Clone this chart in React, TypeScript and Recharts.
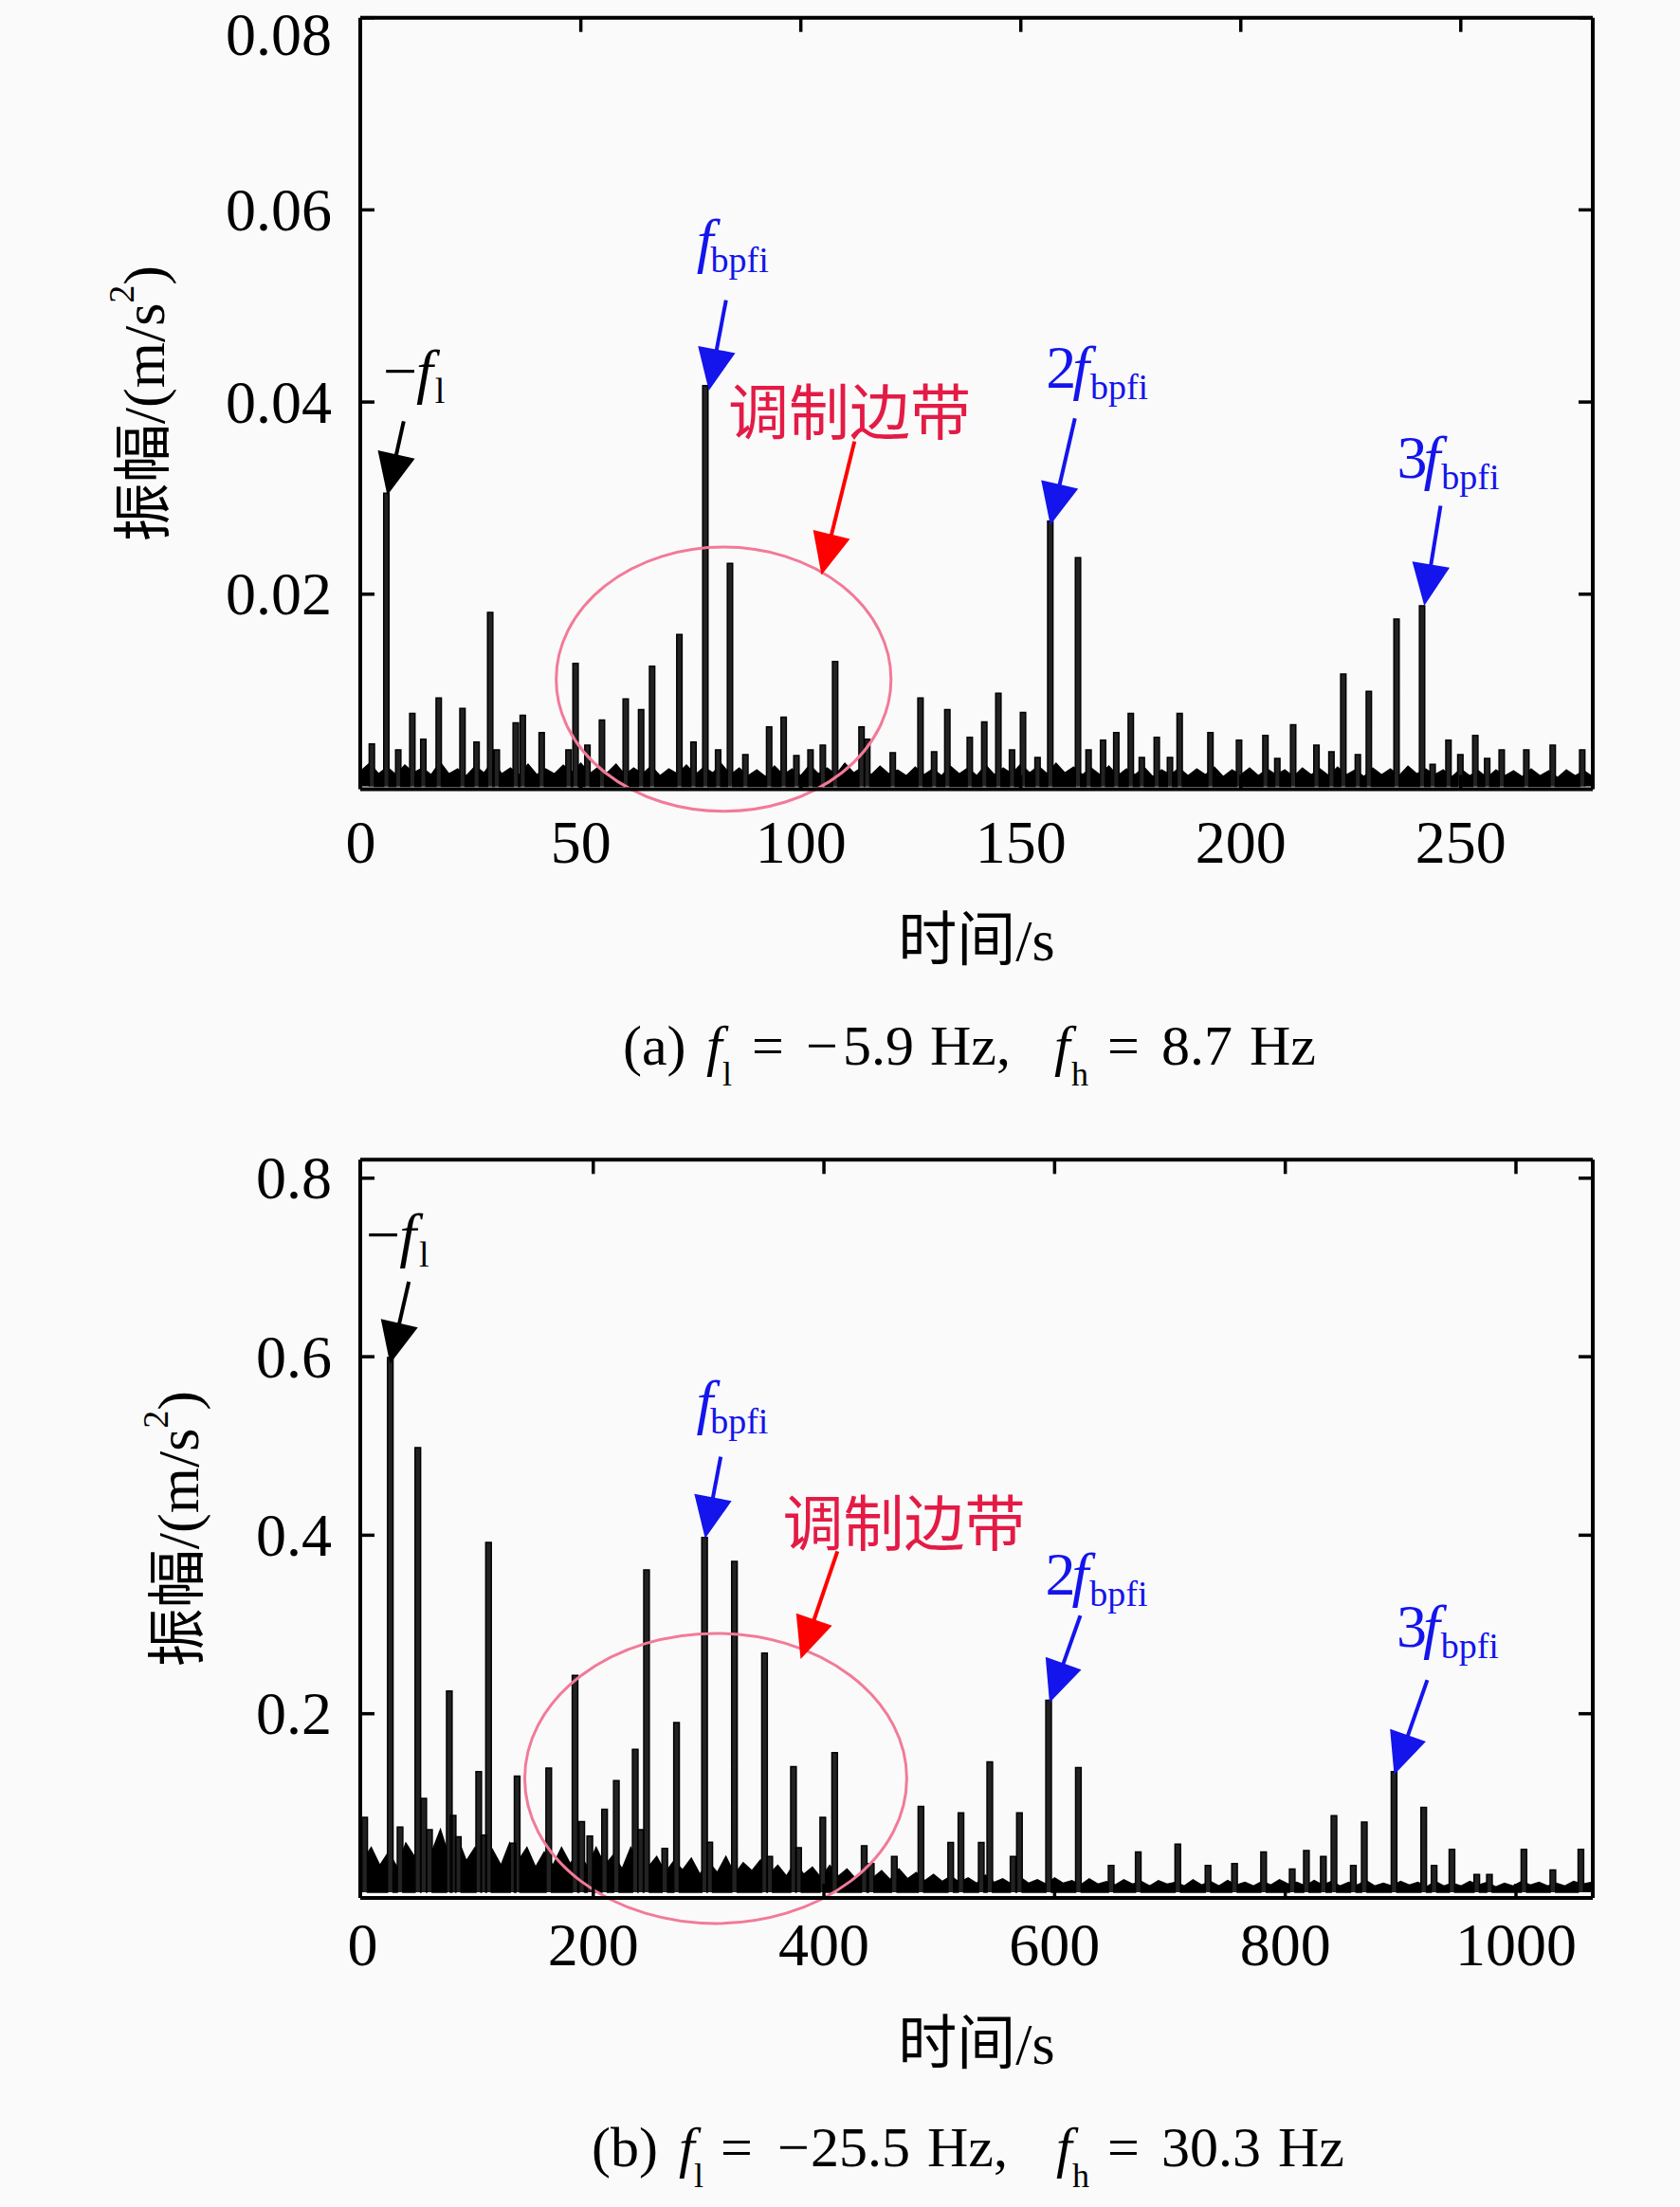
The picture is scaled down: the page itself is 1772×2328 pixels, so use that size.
import React from 'react';
import { ComposedChart, Area, XAxis, YAxis, ReferenceLine, ReferenceDot, ReferenceArea } from 'recharts';

const SERIF = "'Liberation Serif','Times New Roman','Noto Sans CJK SC',serif";
const CJK = "'Noto Sans CJK SC','Liberation Serif',sans-serif";
const BLUE = '#1414ec';
const RED = '#ff0000';
const CRIMSON = '#e31b45';
const PINK = '#f27a98';

// ---------------- panel (a) data ----------------
const peaksA: [number, number][] = [
  [2.5, 0.0044], [5.8, 0.0305], [8.5, 0.0038], [11.7, 0.0076], [14.2, 0.0049], [17.7, 0.0092],
  [23.1, 0.0081], [26.3, 0.0046], [29.4, 0.0181], [30.9, 0.0038], [35.2, 0.0066], [36.8, 0.0074],
  [41.1, 0.0056], [47.2, 0.0038], [48.8, 0.0128], [51.5, 0.0043], [54.8, 0.0069], [60.2, 0.0091],
  [63.7, 0.008], [66.2, 0.0125], [72.4, 0.0158], [75.6, 0.0046], [78.3, 0.0417], [81.2, 0.0038],
  [83.9, 0.0232], [87.4, 0.0033], [92.8, 0.0062], [96.1, 0.0072], [99.0, 0.0032], [102.2, 0.0038],
  [105.0, 0.0043], [107.8, 0.013], [113.8, 0.0062], [115.1, 0.0049], [120.9, 0.0035], [127.2, 0.0092],
  [130.3, 0.0036], [133.3, 0.008], [138.4, 0.0051], [141.7, 0.0067], [144.9, 0.0097], [148.0, 0.0038],
  [150.5, 0.0077], [153.8, 0.003], [156.7, 0.0276], [163.0, 0.0238], [165.4, 0.0038], [168.7, 0.0048],
  [171.7, 0.0056], [175.0, 0.0076], [177.5, 0.003], [180.9, 0.0051], [183.9, 0.003], [186.1, 0.0076],
  [193.1, 0.0056], [199.6, 0.0048], [205.6, 0.0053], [208.3, 0.0029], [211.9, 0.0064], [217.2, 0.0043],
  [220.6, 0.0036], [223.3, 0.0117], [226.6, 0.0033], [229.1, 0.0099], [235.4, 0.0174], [241.2, 0.0188],
  [243.6, 0.0023], [247.2, 0.0048], [249.9, 0.0033], [253.3, 0.0053], [256.0, 0.0029], [259.3, 0.0038],
  [264.9, 0.0038], [270.9, 0.0043], [277.6, 0.0038],
];
// noise floor, one value per 2 Hz bin starting at 0 Hz
const floorStepA = 2;
const floorValuesA = [
  0.0016, 0.0024, 0.0013, 0.002, 0.0012, 0.0022, 0.0014, 0.0019, 0.0012, 0.0025,
  0.0013, 0.0018, 0.0011, 0.0021, 0.0014, 0.0026, 0.0013, 0.0019, 0.0012, 0.0023,
  0.0012, 0.0018, 0.0013, 0.0022, 0.0015, 0.0024, 0.0013, 0.002, 0.0014, 0.0023,
  0.0012, 0.0019, 0.0013, 0.0021, 0.0011, 0.0018, 0.0013, 0.0022, 0.0012, 0.002,
  0.0014, 0.0023, 0.0012, 0.0019, 0.0011, 0.0017, 0.001, 0.0021, 0.0012, 0.0018,
  0.0011, 0.0022, 0.0013, 0.0019, 0.0012, 0.0024, 0.0014, 0.002, 0.0012, 0.0021,
  0.0013, 0.0017, 0.0011, 0.002, 0.0012, 0.0018, 0.0011, 0.0021, 0.0013, 0.0019,
  0.0011, 0.0022, 0.0012, 0.0019, 0.0013, 0.0023, 0.0014, 0.0021, 0.0013, 0.0024,
  0.0014, 0.002, 0.0012, 0.0019, 0.0012, 0.0021, 0.0011, 0.0018, 0.0012, 0.002,
  0.001, 0.0017, 0.0012, 0.0019, 0.0011, 0.0018, 0.0012, 0.002, 0.001, 0.0017,
  0.0012, 0.0019, 0.0011, 0.0018, 0.0012, 0.0017, 0.001, 0.0019, 0.0012, 0.0018,
  0.0011, 0.002, 0.0012, 0.0017, 0.001, 0.0019, 0.0012, 0.0018, 0.0011, 0.0021,
  0.0013, 0.0018, 0.0012, 0.0017, 0.001, 0.0018, 0.0011, 0.0016, 0.0009, 0.0017,
  0.0011, 0.0016, 0.001, 0.0018, 0.0011, 0.0016, 0.0009, 0.0017, 0.0011, 0.0016,
  0.001,
];
const xTicksA = [0, 50, 100, 150, 200, 250];
const topTicksA = [50, 100, 150, 200, 250];
const yTicksA = [0.02, 0.04, 0.06, 0.08];

// ---------------- panel (b) data ----------------
const peaksB: [number, number][] = [
  [1.8, 0.084], [24.0, 0.599], [32.5, 0.073], [47.9, 0.498], [53, 0.105], [58, 0.07], [75.2, 0.2255],
  [78.5, 0.086], [83, 0.062], [100.7, 0.135], [105, 0.064], [109.2, 0.392], [130.5, 0.055], [134, 0.13],
  [161.4, 0.139], [184.2, 0.243], [190, 0.079], [197, 0.063], [209.8, 0.093], [220, 0.125], [236.4, 0.16],
  [241, 0.07], [246.2, 0.361], [262, 0.049], [272.2, 0.19], [296.5, 0.3975], [301, 0.056], [322.4, 0.3706],
  [348.5, 0.268], [353, 0.04], [373.6, 0.1406], [378, 0.05], [399, 0.084], [409.3, 0.1565], [434.9, 0.052],
  [441, 0.032], [461, 0.04], [484.1, 0.096], [509.9, 0.0557], [518.8, 0.089], [536.4, 0.0557], [543.8, 0.146],
  [564, 0.04], [569.5, 0.089], [594.8, 0.215], [620.6, 0.1396], [649, 0.03], [672.5, 0.045], [706.8, 0.054],
  [733, 0.03], [756, 0.032], [781.2, 0.045], [806, 0.026], [818.3, 0.0467], [833, 0.04], [842.2, 0.0857],
  [859, 0.03], [868.5, 0.0787], [894.3, 0.135], [920, 0.095], [929, 0.03], [944.5, 0.048], [966, 0.02],
  [977, 0.02], [1006.9, 0.048], [1032, 0.025], [1056.3, 0.048],
];
// noise floor, one value per 7.5 Hz bin starting at 0 Hz
const floorStepB = 7.5;
const floorValuesB = [
  0.035, 0.05, 0.03, 0.045, 0.028, 0.055, 0.04, 0.065, 0.045, 0.07,
  0.04, 0.06, 0.035, 0.05, 0.03, 0.048, 0.03, 0.055, 0.035, 0.05,
  0.028, 0.045, 0.03, 0.05, 0.032, 0.045, 0.028, 0.05, 0.03, 0.042,
  0.026, 0.05, 0.03,
  0.028, 0.04, 0.022, 0.035, 0.025, 0.038, 0.02, 0.034, 0.022, 0.04,
  0.02, 0.033, 0.024, 0.036, 0.02, 0.03, 0.018, 0.034, 0.02, 0.028,
  0.016, 0.03, 0.018, 0.026, 0.015, 0.028, 0.016, 0.024, 0.014, 0.026,
  0.015, 0.022, 0.013,
  0.02, 0.012, 0.018, 0.011, 0.016, 0.01, 0.019, 0.011, 0.015, 0.009,
  0.017, 0.01, 0.014, 0.009, 0.016, 0.01, 0.013, 0.008, 0.015, 0.009,
  0.012, 0.008, 0.014, 0.009, 0.012, 0.007, 0.013, 0.009, 0.011, 0.007,
  0.014, 0.008, 0.012, 0.007, 0.013, 0.008, 0.011, 0.007, 0.012, 0.008,
  0.014, 0.009, 0.011, 0.007, 0.013, 0.008, 0.012, 0.007, 0.011, 0.008,
  0.013, 0.007, 0.01, 0.007, 0.012, 0.008, 0.011, 0.006, 0.012, 0.007,
  0.01, 0.007, 0.012, 0.008, 0.011, 0.006, 0.01, 0.007, 0.012, 0.008,
  0.011, 0.007, 0.01, 0.007, 0.012, 0.009, 0.011,
];
const xTicksB = [0, 200, 400, 600, 800, 1000];
const topTicksB = [200, 400, 600, 800, 1000];
const yTicksB = [0.2, 0.4, 0.6, 0.8];

// ---------------- annotations ----------------
type Arrow = { from: [number, number]; to: [number, number]; color: string };
type Lab = { at: [number, number]; kind: 'fl' | 'bpfi' | 'band'; n?: string; flDx?: number; subDx?: number };

const arrowsA: Arrow[] = [
  { from: [9.74, 0.038], to: [6.01, 0.0303], color: '#000' },
  { from: [83.0, 0.0506], to: [79.1, 0.0412], color: BLUE },
  { from: [112.2, 0.0359], to: [104.7, 0.022], color: RED },
  { from: [162.3, 0.0383], to: [156.7, 0.0272], color: BLUE },
  { from: [245.4, 0.0292], to: [241.7, 0.0188], color: BLUE },
];
const labelsA: Lab[] = [
  { at: [5.04, 0.0411], kind: 'fl', flDx: -1, subDx: 2 },
  { at: [75.04, 0.0547], kind: 'bpfi', n: '' },
  { at: [83.5, 0.0367], kind: 'band' },
  { at: [155.7, 0.0415], kind: 'bpfi', n: '2' },
  { at: [235.5, 0.0321], kind: 'bpfi', n: '3' },
];
const ellipseA = { x1: 44.4, x2: 120.5, y1: -0.0026, y2: 0.0249 };

const arrowsB: Arrow[] = [
  { from: [40.1, 0.684], to: [23.8, 0.592], color: '#000' },
  { from: [310.5, 0.488], to: [297, 0.3964], color: BLUE },
  { from: [411.7, 0.382], to: [379.8, 0.2613], color: RED },
  { from: [622.3, 0.31], to: [595.6, 0.2124], color: BLUE },
  { from: [923.1, 0.2377], to: [894.4, 0.1317], color: BLUE },
];
const labelsB: Lab[] = [
  { at: [3.0, 0.7137], kind: 'fl', flDx: -1, subDx: 3 },
  { at: [284.4, 0.527], kind: 'bpfi', n: '' },
  { at: [364.2, 0.3887], kind: 'band' },
  { at: [591.9, 0.3335], kind: 'bpfi', n: '2' },
  { at: [896.4, 0.2755], kind: 'bpfi', n: '3' },
];
const ellipseB = { x1: 140.6, x2: 471.8, y1: -0.035, y2: 0.29 };

// caption segments: [text, offset from plot centre, italic, subscript]
const captionA: [string, number, boolean, boolean][] = [
  ['(a)', -373, false, false], ['f', -285, true, false], ['l', -268, false, true], ['=', -237, false, false],
  ['−', -180, false, false], ['5.9', -141, false, false], ['Hz,', -49, false, false], ['f', 82, true, false],
  ['h', 100, false, true], ['=', 138, false, false], ['8.7', 195, false, false], ['Hz', 288, false, false],
];
const captionB: [string, number, boolean, boolean][] = [
  ['(b)', -406, false, false], ['f', -314, true, false], ['l', -298, false, true], ['=', -270, false, false],
  ['−', -210, false, false], ['25.5', -175, false, false], ['Hz,', -52, false, false], ['f', 84, true, false],
  ['h', 101, false, true], ['=', 138, false, false], ['30.3', 195, false, false], ['Hz', 318, false, false],
];

// ---------------- helpers ----------------
const toSpikes = (peaks: [number, number][], half: number) =>
  peaks
    .slice()
    .sort((p, q) => p[0] - q[0])
    .flatMap(([f, a]) => [
      { f: f - half, a: 0 },
      { f: f - half, a },
      { f: f + half, a },
      { f: f + half, a: 0 },
    ]);
const toFloor = (values: number[], step: number) => values.map((a, i) => ({ f: i * step, a }));

const NoTick = () => null;

const YTick = (props: any) => {
  const { x, y, payload, digits, topVal, topShift } = props;
  const shift = payload.value === topVal ? topShift : 0;
  return (
    <text x={x} y={y + shift} textAnchor="end" dominantBaseline="central" fontFamily={SERIF} fontSize={64} fill="#000">
      {Number(payload.value).toFixed(digits)}
    </text>
  );
};

const XTick = (props: any) => {
  const { x, y, payload, base } = props;
  return (
    <text x={x} y={y + base} textAnchor="middle" fontFamily={SERIF} fontSize={64} fill="#000">
      {payload.value}
    </text>
  );
};

const ArrowShape = (props: any) => {
  const { x1, y1, x2, y2, color } = props;
  const X1 = Number(x1), Y1 = Number(y1), X2 = Number(x2), Y2 = Number(y2);
  const dx = X2 - X1, dy = Y2 - Y1;
  const L = Math.hypot(dx, dy) || 1;
  const ux = dx / L, uy = dy / L;
  const hl = 44, hw = 20;
  const bx = X2 - ux * hl, by = Y2 - uy * hl;
  const px = -uy, py = ux;
  return (
    <g>
      <line x1={X1} y1={Y1} x2={bx + ux * 6} y2={by + uy * 6} stroke={color} strokeWidth={4} />
      <polygon points={`${X2},${Y2} ${bx + px * hw},${by + py * hw} ${bx - px * hw},${by - py * hw}`} fill={color} />
    </g>
  );
};

const AnnLabel = (props: any) => {
  const { cx, cy, lab } = props as { cx: number; cy: number; lab: Lab };
  if (lab.kind === 'band') {
    return (
      <text x={cx} y={cy} fontFamily={CJK} fontSize={64} fill={CRIMSON}>
        调制边带
      </text>
    );
  }
  if (lab.kind === 'fl') {
    return (
      <text x={cx} y={cy} fontFamily={SERIF} fontSize={64} fill="#000">
        <tspan>−</tspan>
        <tspan fontStyle="italic" dx={lab.flDx}>f</tspan>
        <tspan fontSize={38} dx={lab.subDx} dy={12}>l</tspan>
      </text>
    );
  }
  const hasN = !!lab.n;
  return (
    <text x={cx} y={cy} fontFamily={SERIF} fontSize={64} fill={BLUE}>
      {hasN ? <tspan>{lab.n}</tspan> : null}
      <tspan fontStyle="italic" dx={hasN ? -4 : 6}>f</tspan>
      <tspan fontSize={38} dx={hasN ? 1 : -3} dy={12}>bpfi</tspan>
    </text>
  );
};

type PanelCfg = {
  top: number;
  height: number;
  marginTop: number;
  marginBottom: number;
  xDomain: [number, number];
  yDomain: [number, number];
  xTicks: number[];
  topTicks: number[];
  yTicks: number[];
  digits: number;
  topShift: number;
  peaks: [number, number][];
  floorValues: number[];
  floorStep: number;
  half: number;
  arrows: Arrow[];
  labels: Lab[];
  ellipse: { x1: number; x2: number; y1: number; y2: number };
  yLabelX: number;
  xTickBase: number;
  xTitleDy: number;
  captionDy: number;
  caption: [string, number, boolean, boolean][];
};

const PLOT_LEFT = 380;
const PLOT_RIGHT = 1680;
const CHART_W = 1772;

function Panel({ c }: { c: PanelCfg }) {
  const plotBottom = c.height - c.marginBottom - 200;
  const cx = (PLOT_LEFT + PLOT_RIGHT) / 2;
  const cy = (c.marginTop + plotBottom) / 2;
  const spikes = toSpikes(c.peaks, c.half);
  const floor = toFloor(c.floorValues, c.floorStep);

  const yTitle = () => (
    <text
      transform={`translate(${c.yLabelX},${cy}) rotate(-90)`}
      textAnchor="middle"
      dominantBaseline="central"
      fontFamily={SERIF}
      fontSize={62}
      fill="#000"
    >
      振幅/(m/s<tspan fontSize={38} dy={-24}>2</tspan>
      <tspan dy={24}>)</tspan>
    </text>
  );

  const xTitle = () => (
    <g>
      <text x={cx} y={plotBottom + c.xTitleDy} textAnchor="middle" fontFamily={SERIF} fontSize={62} fill="#000">
        时间/s
      </text>
      <text y={plotBottom + c.captionDy} fontFamily={SERIF} fontSize={60} fill="#000">
        {c.caption.map(([t, off, it, sub], i) => (
          <tspan
            key={i}
            x={cx + off}
            y={plotBottom + c.captionDy + (sub ? 22 : 0)}
            fontStyle={it ? 'italic' : 'normal'}
            fontSize={sub ? 36 : 60}
          >
            {t}
          </tspan>
        ))}
      </text>
    </g>
  );

  const axisLine = { stroke: '#000', strokeWidth: 4 };
  const tickLine = { stroke: '#000', strokeWidth: 3.5 };

  return (
    <div style={{ position: 'absolute', left: 0, top: c.top, width: CHART_W, height: c.height }}>
      <ComposedChart
        width={CHART_W}
        height={c.height}
        margin={{ top: c.marginTop, right: CHART_W - PLOT_RIGHT, left: 0, bottom: c.marginBottom }}
      >
        <XAxis
          xAxisId={0}
          type="number"
          dataKey="f"
          domain={c.xDomain}
          allowDataOverflow
          ticks={c.xTicks}
          interval={0}
          height={200}
          tickSize={0}
          tickMargin={0}
          tickLine={false}
          axisLine={axisLine}
          tick={<XTick base={c.xTickBase} />}
          label={xTitle}
        />
        <XAxis
          xAxisId="top"
          orientation="top"
          mirror
          type="number"
          dataKey="f"
          domain={c.xDomain}
          allowDataOverflow
          ticks={c.topTicks}
          interval={0}
          tickSize={15}
          tickLine={tickLine}
          axisLine={axisLine}
          tick={NoTick}
        />
        <XAxis
          xAxisId="bottomMirror"
          orientation="bottom"
          mirror
          type="number"
          dataKey="f"
          domain={c.xDomain}
          allowDataOverflow
          ticks={c.topTicks}
          interval={0}
          tickSize={15}
          tickLine={tickLine}
          axisLine={false}
          tick={NoTick}
        />
        <YAxis
          yAxisId={0}
          type="number"
          domain={c.yDomain}
          allowDataOverflow
          ticks={c.yTicks}
          interval={0}
          width={PLOT_LEFT}
          tickSize={0}
          tickMargin={30}
          tickLine={false}
          axisLine={axisLine}
          tick={<YTick digits={c.digits} topVal={c.yTicks[c.yTicks.length - 1]} topShift={c.topShift} />}
          label={yTitle}
        />
        <YAxis
          yAxisId="leftMirror"
          orientation="left"
          mirror
          type="number"
          domain={c.yDomain}
          allowDataOverflow
          ticks={c.yTicks}
          interval={0}
          tickSize={15}
          tickLine={tickLine}
          axisLine={false}
          tick={NoTick}
        />
        <YAxis
          yAxisId="right"
          orientation="right"
          mirror
          type="number"
          domain={c.yDomain}
          allowDataOverflow
          ticks={c.yTicks}
          interval={0}
          tickSize={15}
          tickLine={tickLine}
          axisLine={axisLine}
          tick={NoTick}
        />
        <Area
          data={floor}
          dataKey="a"
          type="linear"
          stroke="#000"
          strokeWidth={1.5}
          fill="#000"
          fillOpacity={1}
          isAnimationActive={false}
          dot={false}
          activeDot={false}
        />
        <Area
          data={spikes}
          dataKey="a"
          type="linear"
          stroke="#000"
          strokeWidth={1.5}
          fill="#222"
          fillOpacity={1}
          isAnimationActive={false}
          dot={false}
          activeDot={false}
        />
        <ReferenceArea
          x1={c.ellipse.x1}
          x2={c.ellipse.x2}
          y1={c.ellipse.y1}
          y2={c.ellipse.y2}
          ifOverflow="visible"
          shape={(p: any) => (
            <ellipse
              cx={p.x + p.width / 2}
              cy={p.y + p.height / 2}
              rx={Math.abs(p.width / 2)}
              ry={Math.abs(p.height / 2)}
              fill="none"
              stroke={PINK}
              strokeWidth={3}
            />
          )}
        />
        {c.arrows.map((a, i) => (
          <ReferenceLine
            key={`ar${i}`}
            segment={[{ x: a.from[0], y: a.from[1] }, { x: a.to[0], y: a.to[1] }]}
            ifOverflow="visible"
            shape={(p: any) => <ArrowShape {...p} color={a.color} />}
          />
        ))}
        {c.labels.map((l, i) => (
          <ReferenceDot
            key={`lb${i}`}
            x={l.at[0]}
            y={l.at[1]}
            ifOverflow="visible"
            shape={(p: any) => <AnnLabel cx={p.cx} cy={p.cy} lab={l} />}
          />
        ))}
      </ComposedChart>
    </div>
  );
}

const panelA: PanelCfg = {
  top: 0,
  height: 1160,
  marginTop: 18.7,
  marginBottom: 127.5,
  xDomain: [-0.13, 280],
  yDomain: [-0.0003, 0.08],
  xTicks: xTicksA,
  topTicks: topTicksA,
  yTicks: yTicksA,
  digits: 2,
  topShift: 18,
  peaks: peaksA,
  floorValues: floorValuesA,
  floorStep: floorStepA,
  half: 0.6,
  arrows: arrowsA,
  labels: labelsA,
  ellipse: ellipseA,
  yLabelX: 152,
  xTickBase: 77.5,
  xTitleDy: 180.5,
  captionDy: 290.5,
  caption: captionA,
};

const panelB: PanelCfg = {
  top: 1160,
  height: 1168,
  marginTop: 63.3,
  marginBottom: 126,
  xDomain: [-2, 1066.6],
  yDomain: [-0.0064, 0.8207],
  xTicks: xTicksB,
  topTicks: topTicksB,
  yTicks: yTicksB,
  digits: 1,
  topShift: 0,
  peaks: peaksB,
  floorValues: floorValuesB,
  floorStep: floorStepB,
  half: 2.4,
  arrows: arrowsB,
  labels: labelsB,
  ellipse: ellipseB,
  yLabelX: 188,
  xTickBase: 71.3,
  xTitleDy: 174.7,
  captionDy: 283,
  caption: captionB,
};

export default function App() {
  return (
    <div style={{ position: 'absolute', left: 0, top: 0, width: CHART_W, height: 2328, background: '#fafafa', overflow: 'hidden' }}>
      <Panel c={panelA} />
      <Panel c={panelB} />
    </div>
  );
}
